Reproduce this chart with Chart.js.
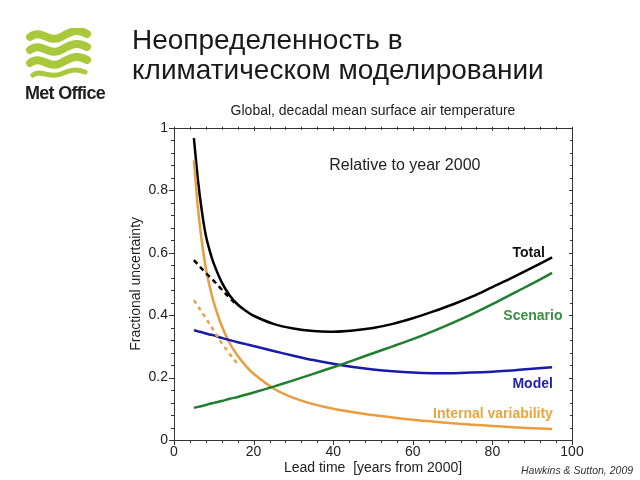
<!DOCTYPE html>
<html>
<head>
<meta charset="utf-8">
<script src="https://cdn.jsdelivr.net/npm/chart.js@4.4.1/dist/chart.umd.min.js"></script>
<style>
  body { margin: 0; background: #fff; }
  #wrap { position: relative; width: 640px; height: 480px; overflow: hidden; font-family: "Liberation Sans", Arial, sans-serif; }
  #myChart { position: absolute; left: 0; top: 0; }
  .headline { position: absolute; left: 132px; top: 25px; font-size: 28px; line-height: 30px; color: #1a1a1a; white-space: nowrap; }
  .logo { position: absolute; left: 25px; top: 28px; }
  .brand { position: absolute; left: 25px; top: 83px; font-size: 18px; font-weight: bold; letter-spacing: -0.7px; color: #1e1e1e; }
  .cite { position: absolute; left: 521px; top: 464px; font-size: 10.5px; font-style: italic; color: #333; white-space: nowrap; }
</style>
</head>
<body>
<div id="wrap">
  <canvas id="myChart" width="640" height="480"></canvas>
  <svg class="logo" width="66" height="52" viewBox="0 0 66 52">
    <g fill="none" stroke="#a9c83c" stroke-linecap="round">
      <path d="M5,9 C16,0 24,16 36,9 S54,1 62,6" stroke-width="8"/>
      <path d="M5,22 C16,13 24,29 36,22 S54,14 62,19" stroke-width="8"/>
      <path d="M5,35 C16,26 24,42 36,35 S54,27 62,32" stroke-width="8"/>
      <path d="M8,47 C17,41 24,51 36,46 S52,41 60,44" stroke-width="5"/>
    </g>
  </svg>
  <div class="brand">Met Office</div>
  <div class="headline">Неопределенность в<br>климатическом моделировании</div>
  <div class="cite">Hawkins &amp; Sutton, 2009</div>
</div>
<script>
// lead time, years from 2000
var leadYears = [5, 6, 7, 8, 9, 10, 12, 14, 16, 18, 20, 25, 30, 35, 40, 45, 50, 55, 60, 65, 70, 75, 80, 85, 90, 95];
var totalU    = [0.967, 0.835, 0.733, 0.655, 0.605, 0.565, 0.505, 0.463, 0.434, 0.414, 0.398, 0.372, 0.357, 0.349, 0.347, 0.351, 0.359, 0.372, 0.39, 0.411, 0.434, 0.46, 0.49, 0.52, 0.552, 0.585];
var scenarioU = [0.103, 0.106, 0.109, 0.112, 0.116, 0.119, 0.125, 0.132, 0.138, 0.145, 0.152, 0.171, 0.191, 0.212, 0.233, 0.255, 0.278, 0.3, 0.323, 0.348, 0.375, 0.404, 0.435, 0.468, 0.501, 0.535];
var modelU    = [0.352, 0.348, 0.345, 0.341, 0.338, 0.335, 0.327, 0.32, 0.313, 0.307, 0.301, 0.285, 0.27, 0.256, 0.244, 0.234, 0.226, 0.22, 0.216, 0.214, 0.214, 0.216, 0.219, 0.223, 0.228, 0.233];
var internalU = [0.896, 0.745, 0.635, 0.55, 0.49, 0.44, 0.365, 0.31, 0.27, 0.238, 0.212, 0.165, 0.135, 0.115, 0.1, 0.089, 0.08, 0.072, 0.065, 0.059, 0.054, 0.049, 0.045, 0.041, 0.038, 0.035];

// dashed variants (early lead times)
var dashYears      = [5, 8, 10, 12, 14, 16];
var totalDashed    = [0.576, 0.535, 0.51, 0.482, 0.455, 0.43];
var internalDashed = [0.448, 0.39, 0.35, 0.31, 0.275, 0.243];

var xTicks = [0, 100, 20, 4];     // min, max, major step, minor step
var yTicks = [0, 1, 0.2, 0.04];

var fontFam = '"Liberation Sans", Arial, sans-serif';

function pts(xs, ys) {
  return xs.map(function (x, i) { return { x: x, y: ys[i] }; });
}

function line(label, xs, ys, color, dash) {
  return {
    label: label,
    data: pts(xs, ys),
    borderColor: color,
    borderWidth: 2.5,
    borderDash: dash || [],
    pointRadius: 0,
    fill: false,
    tension: 0.35
  };
}

// frame round the plot with small ticks on all four sides, plus curve labels
var frameTicks = {
  id: 'frameTicks',
  beforeDatasetsDraw: function (chart) {
    var ctx = chart.ctx, a = chart.chartArea, x = chart.scales.x, y = chart.scales.y;
    ctx.save();
    ctx.strokeStyle = '#333';
    ctx.lineWidth = 1;
    ctx.strokeRect(Math.round(a.left) + 0.5, Math.round(a.top) + 0.5, Math.round(a.right - a.left), Math.round(a.bottom - a.top));
    ctx.beginPath();
    var nx = Math.round((xTicks[1] - xTicks[0]) / xTicks[3]);
    for (var i = 0; i <= nx; i++) {
      var v = xTicks[0] + i * xTicks[3];
      var px = Math.round(x.getPixelForValue(v)) + 0.5;
      var major = i % 5 === 0;
      ctx.moveTo(px, a.bottom); ctx.lineTo(px, a.bottom + (major ? 5 : 3));
      ctx.moveTo(px, a.top - 1); ctx.lineTo(px, a.top + (major ? 3 : 2));
    }
    var ny = Math.round((yTicks[1] - yTicks[0]) / yTicks[3]);
    for (var j = 0; j <= ny; j++) {
      var w = yTicks[0] + j * yTicks[3];
      var py = Math.round(y.getPixelForValue(w)) + 0.5;
      var maj = j % 5 === 0;
      ctx.moveTo(a.left, py); ctx.lineTo(a.left - (maj ? 5 : 3), py);
      ctx.moveTo(a.right + 1, py); ctx.lineTo(a.right - (maj ? 3 : 2), py);
    }
    ctx.stroke();
    ctx.restore();
  },
  afterDatasetsDraw: function (chart) {
    var ctx = chart.ctx, x = chart.scales.x, y = chart.scales.y;
    ctx.save();
    ctx.textBaseline = 'middle';
    ctx.font = '16px ' + fontFam;
    ctx.fillStyle = '#222';
    ctx.textAlign = 'center';
    ctx.fillText('Relative to year 2000', x.getPixelForValue(58), y.getPixelForValue(0.88));
    ctx.font = 'bold 14px ' + fontFam;
    ctx.textAlign = 'right';
    ctx.fillStyle = '#111';
    ctx.fillText('Total', x.getPixelForValue(93.2), y.getPixelForValue(0.599));
    ctx.fillStyle = '#3a8e44';
    ctx.fillText('Scenario', x.getPixelForValue(97.6), y.getPixelForValue(0.398));
    ctx.fillStyle = '#2222b0';
    ctx.fillText('Model', x.getPixelForValue(95.2), y.getPixelForValue(0.179));
    ctx.fillStyle = '#e9a444';
    ctx.fillText('Internal variability', x.getPixelForValue(95.2), y.getPixelForValue(0.083));
    ctx.restore();
  }
};

var ctx = document.getElementById('myChart').getContext('2d');
var chart = new Chart(ctx, {
  type: 'line',
  data: {
    datasets: [
      line('Internal variability (dashed)', dashYears, internalDashed, '#eba04a', [4, 4]),
      line('Total (dashed)', dashYears, totalDashed, '#000', [5, 4]),
      line('Scenario', leadYears, scenarioU, '#1f7f2e'),
      line('Model', leadYears, modelU, '#1a1aaa'),
      line('Internal variability', leadYears, internalU, '#eb9c3e'),
      line('Total', leadYears, totalU, '#000')
    ]
  },
  options: {
    responsive: false,
    animation: false,
    layout: { padding: { left: 128, right: 68, top: 103, bottom: 3 } },
    plugins: {
      legend: { display: false },
      tooltip: { enabled: false },
      title: {
        display: true,
        fullSize: false,
        text: 'Global, decadal mean surface air temperature',
        color: '#222',
        font: { family: fontFam, size: 14, weight: 'normal', lineHeight: 1.2 },
        padding: { top: 0, bottom: 8 }
      }
    },
    scales: {
      x: {
        type: 'linear',
        min: xTicks[0], max: xTicks[1],
        ticks: { stepSize: xTicks[2], padding: 4, color: '#222', font: { family: fontFam, size: 14 } },
        grid: { display: true, drawOnChartArea: false, drawTicks: false },
        border: { display: false },
        title: { display: true, text: 'Lead time  [years from 2000]', color: '#222', padding: 0, font: { family: fontFam, size: 14, lineHeight: 1.2 } },
        afterFit: function (s) { s.height = 37; }
      },
      y: {
        min: yTicks[0], max: yTicks[1],
        ticks: {
          stepSize: yTicks[2], padding: 6, color: '#222', font: { family: fontFam, size: 14 },
          callback: function (v) { return String(+v.toFixed(1)); }
        },
        grid: { display: true, drawOnChartArea: false, drawTicks: false },
        border: { display: false },
        title: { display: true, text: 'Fractional uncertainty', color: '#222', padding: 0, font: { family: fontFam, size: 14, lineHeight: 1.2 } },
        afterFit: function (s) { s.width = 46; }
      }
    }
  },
  plugins: [frameTicks]
});
</script>
</body>
</html>
